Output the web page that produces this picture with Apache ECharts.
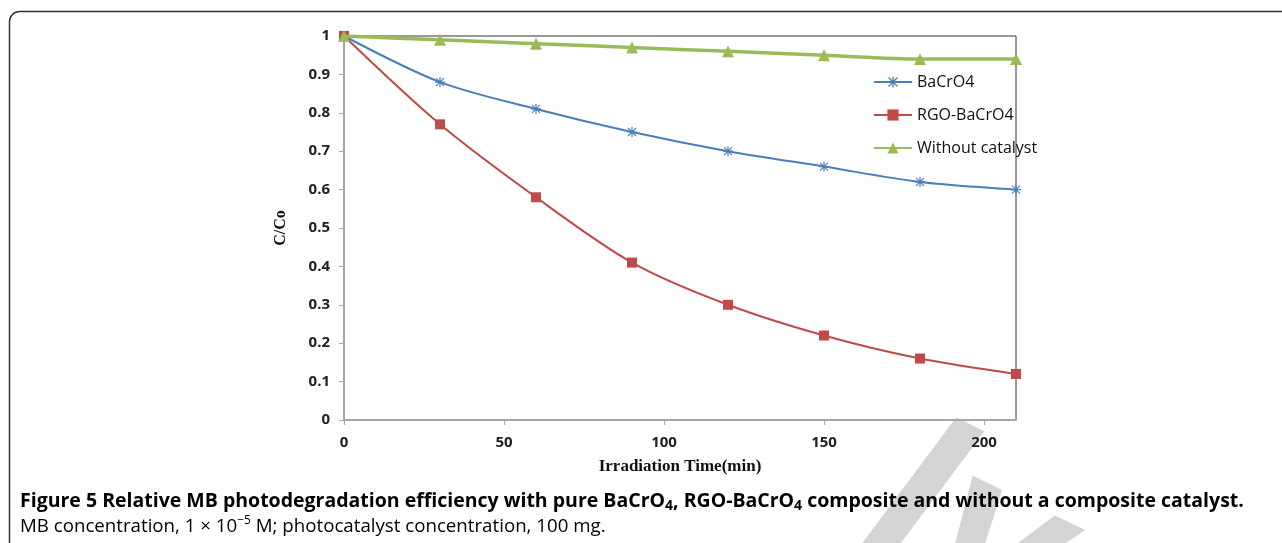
<!DOCTYPE html>
<html>
<head>
<meta charset="utf-8">
<script src="https://cdn.jsdelivr.net/npm/echarts@6/dist/echarts.min.js"></script>
<style>
    html, body { margin: 0; padding: 0; background: #fff; }
    #chart { width: 1282px; height: 543px; }
</style>
</head>
<body>
<div id="chart"></div>
<script>
// irradiation time (min)
const times = [0, 30, 60, 90, 120, 150, 180, 210];
// C/Co
const bacro4 = [1.0, 0.88, 0.81, 0.75, 0.70, 0.66, 0.62, 0.60];
const rgoBacro4 = [1.0, 0.77, 0.58, 0.41, 0.30, 0.22, 0.16, 0.12];
const noCatalyst = [1.0, 0.99, 0.98, 0.97, 0.96, 0.95, 0.94, 0.94];
const seriesNames = ["BaCrO4", "RGO-BaCrO4", "Without catalyst"];

const pairs = ys => times.map((t, i) => [t, ys[i]]);

// asterisk marker like the Excel "*" symbol
const starPath = "path://M4.4,0L5.6,0L5.6,10L4.4,10Z M0.6,1.4L1.4,0.6L9.4,8.6L8.6,9.4Z M8.6,0.6L9.4,1.4L1.4,9.4L0.6,8.6Z M0,4.4L10,4.4L10,5.6L0,5.6Z";

const chart = echarts.init(document.getElementById("chart"));

const labelFont = "'Open Sans', 'Liberation Sans', sans-serif";
const serifFont = "'Liberation Serif', 'DejaVu Serif', serif";

chart.setOption({
    animation: false,
    backgroundColor: "#fff",
    grid: {
        left: 344, top: 36, width: 672, height: 384,
        show: true, borderColor: "#333", borderWidth: 1
    },
    legend: {
        orient: "vertical",
        left: 868, top: 69,
        itemWidth: 38, itemHeight: 14, itemGap: 17,
        textStyle: { fontFamily: labelFont, fontSize: 16, color: "#111" },
        data: seriesNames
    },
    xAxis: {
        type: "value",
        min: 0, max: 210, interval: 50,
        name: "Irradiation Time(min)",
        nameLocation: "middle",
        nameGap: 38,
        nameTextStyle: { fontFamily: serifFont, fontWeight: "bold", fontSize: 17, color: "#111" },
        axisLine: { lineStyle: { color: "#a6a6a6", width: 2 } },
        axisTick: { show: true, length: 5, lineStyle: { color: "#a6a6a6" } },
        axisLabel: { showMaxLabel: false, margin: 15, fontFamily: labelFont, fontWeight: "bold", fontSize: 15, color: "#222" },
        splitLine: { show: false }
    },
    yAxis: {
        type: "value",
        min: 0, max: 1, interval: 0.1,
        name: "C/Co",
        nameLocation: "middle",
        nameGap: 55,
        nameRotate: 90,
        nameTextStyle: { fontFamily: serifFont, fontWeight: "bold", fontSize: 16, color: "#111" },
        axisLine: { show: true, lineStyle: { color: "#a6a6a6", width: 2 } },
        axisTick: { show: true, length: 5, lineStyle: { color: "#a6a6a6" } },
        axisLabel: { margin: 14, fontFamily: labelFont, fontWeight: "bold", fontSize: 15, color: "#222" },
        splitLine: { show: false }
    },
    graphic: [
        {
            type: "rect", z: -10, silent: true,
            shape: { x: 9.5, y: 11.5, width: 1300, height: 560, r: 10 },
            style: { fill: "none", stroke: "#333", lineWidth: 1.5 }
        },
        {
            // faint watermark
            type: "text", z: -5, silent: true,
            x: 915, y: 640, rotation: -0.45,
            style: {
                text: "ly", fill: "#d4d4d4",
                font: "italic bold 230px 'Liberation Sans', sans-serif",
                textVerticalAlign: "bottom", textAlign: "center"
            }
        },
        {
            type: "text", left: 20, top: 491,
            style: {
                text: "{b|Figure 5 Relative MB photodegradation efficiency with pure BaCrO}{s|4}{b|, RGO-BaCrO}{s|4}{b| composite and without a composite catalyst.}",
                rich: {
                    b: { fontFamily: labelFont, fontWeight: "bold", fontSize: 19.5, color: "#231f20", lineHeight: 24 },
                    s: { fontFamily: labelFont, fontWeight: "bold", fontSize: 14, color: "#231f20", lineHeight: 14, verticalAlign: "bottom" }
                }
            }
        },
        {
            type: "text", left: 20, top: 515,
            style: {
                text: "{r|MB concentration, 1 × 10}{p|−5}{r| M; photocatalyst concentration, 100 mg.}",
                rich: {
                    r: { fontFamily: labelFont, fontSize: 18.7, color: "#231f20", lineHeight: 24 },
                    p: { fontFamily: labelFont, fontSize: 12, color: "#231f20", lineHeight: 12, verticalAlign: "top" }
                }
            }
        }
    ],
    series: [
        {
            name: seriesNames[0],
            type: "line",
            smooth: 0.3,
            data: pairs(bacro4),
            symbol: starPath,
            symbolSize: 10,
            lineStyle: { color: "#4a7ebb", width: 2 },
            itemStyle: { color: "#4a7ebb" },
            z: 3
        },
        {
            name: seriesNames[1],
            type: "line",
            smooth: 0.3,
            data: pairs(rgoBacro4),
            symbol: "rect",
            symbolSize: 10,
            lineStyle: { color: "#be4b48", width: 2 },
            itemStyle: { color: "#be4b48" },
            z: 4
        },
        {
            name: seriesNames[2],
            type: "line",
            smooth: 0.3,
            data: pairs(noCatalyst),
            symbol: "triangle",
            symbolSize: 12,
            lineStyle: { color: "#9bbb59", width: 3.5 },
            itemStyle: { color: "#9bbb59" },
            z: 5
        }
    ]
});
</script>
</body>
</html>
